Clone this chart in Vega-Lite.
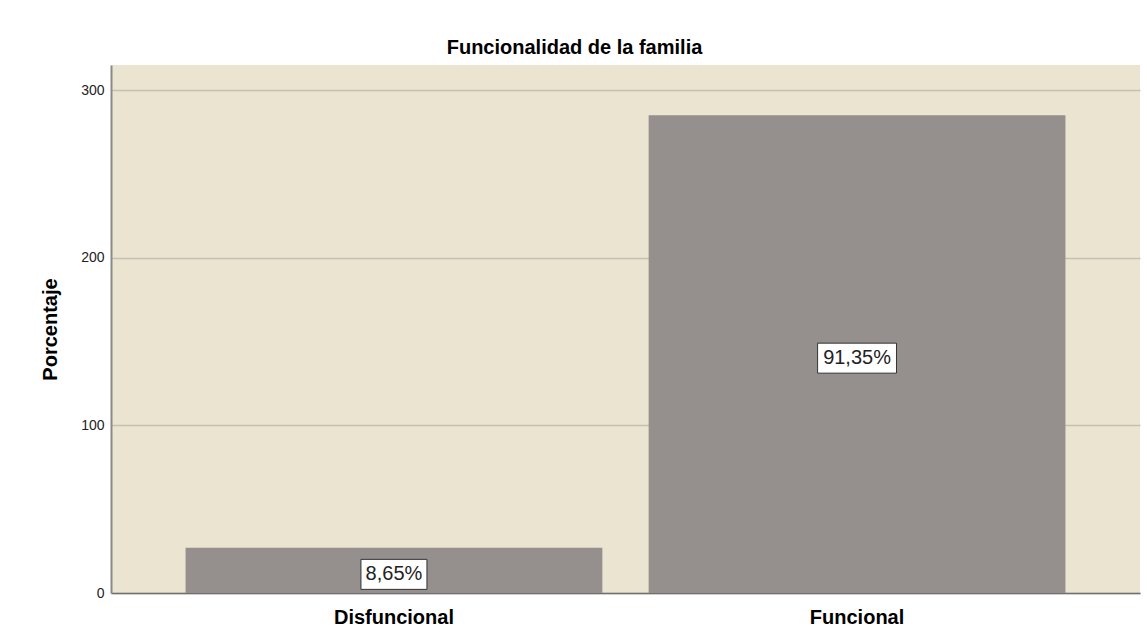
{
  "$schema": "https://vega.github.io/schema/vega-lite/v6.json",
  "autosize": {"type": "none"},
  "width": 1029,
  "height": 528,
  "padding": {"left": 111, "top": 65, "right": 7, "bottom": 51},
  "background": "white",
  "title": {
    "text": "Funcionalidad de la familia",
    "font": "Liberation Sans",
    "fontSize": 20,
    "fontWeight": "bold",
    "color": "#000000",
    "anchor": "middle",
    "baseline": "alphabetic",
    "offset": 8,
    "dx": -51,
    "dy": 17
  },
  "config": {
    "view": {"fill": "#EAE4D0", "stroke": null},
    "font": "Liberation Sans"
  },
  "data": {
    "values": [
      {"category": "Disfuncional", "count": 27, "label": "8,65%"},
      {"category": "Funcional", "count": 285, "label": "91,35%"}
    ]
  },
  "transform": [{"calculate": "datum.count / 2", "as": "mid"}],
  "encoding": {
    "x": {
      "field": "category",
      "type": "nominal",
      "sort": ["Disfuncional", "Funcional"],
      "scale": {"paddingInner": 0.1, "paddingOuter": 0.161},
      "axis": {
        "title": null,
        "labelAngle": 0,
        "labelFont": "Liberation Sans",
        "labelFontSize": 20,
        "labelFontWeight": "bold",
        "labelColor": "#000000",
        "labelPadding": 14,
        "ticks": false,
        "domainColor": "#707070",
        "domainWidth": 1.5
      }
    }
  },
  "layer": [
    {
      "mark": {"type": "bar", "color": "#958F8E"},
      "encoding": {
        "y": {
          "field": "count",
          "type": "quantitative",
          "scale": {"domain": [0, 315], "nice": false},
          "axis": {
            "title": "Porcentaje",
            "titleFont": "Liberation Sans",
            "titleFontSize": 20,
            "titleFontWeight": "bold",
            "titleColor": "#000000",
            "titlePadding": 20,
            "values": [0, 100, 200, 300],
            "labelFont": "Liberation Sans",
            "labelFontSize": 14,
            "labelColor": "#222222",
            "labelPadding": 7,
            "ticks": false,
            "grid": true,
            "gridColor": "#C6C0B3",
            "gridWidth": 1.5,
            "domainColor": "#8A8A8A",
            "domainWidth": 2
          }
        }
      }
    },
    {
      "mark": {"type": "point", "filled": true, "fill": "white", "stroke": "#333333", "strokeWidth": 1, "opacity": 1, "size": 900, "yOffset": 4},
      "encoding": {
        "y": {"field": "mid", "type": "quantitative"},
        "shape": {
          "field": "category",
          "type": "nominal",
          "scale": {"domain": ["Disfuncional", "Funcional"], "range": ["M-2.2,-1H2.2V1H-2.2Z", "M-2.63,-1H2.63V1H-2.63Z"]},
          "legend": null
        }
      }
    },
    {
      "mark": {"type": "text", "font": "Liberation Sans", "fontSize": 20, "color": "#222222", "baseline": "middle", "align": "center", "yOffset": 4},
      "encoding": {
        "y": {"field": "mid", "type": "quantitative"},
        "text": {"field": "label"}
      }
    }
  ]
}
